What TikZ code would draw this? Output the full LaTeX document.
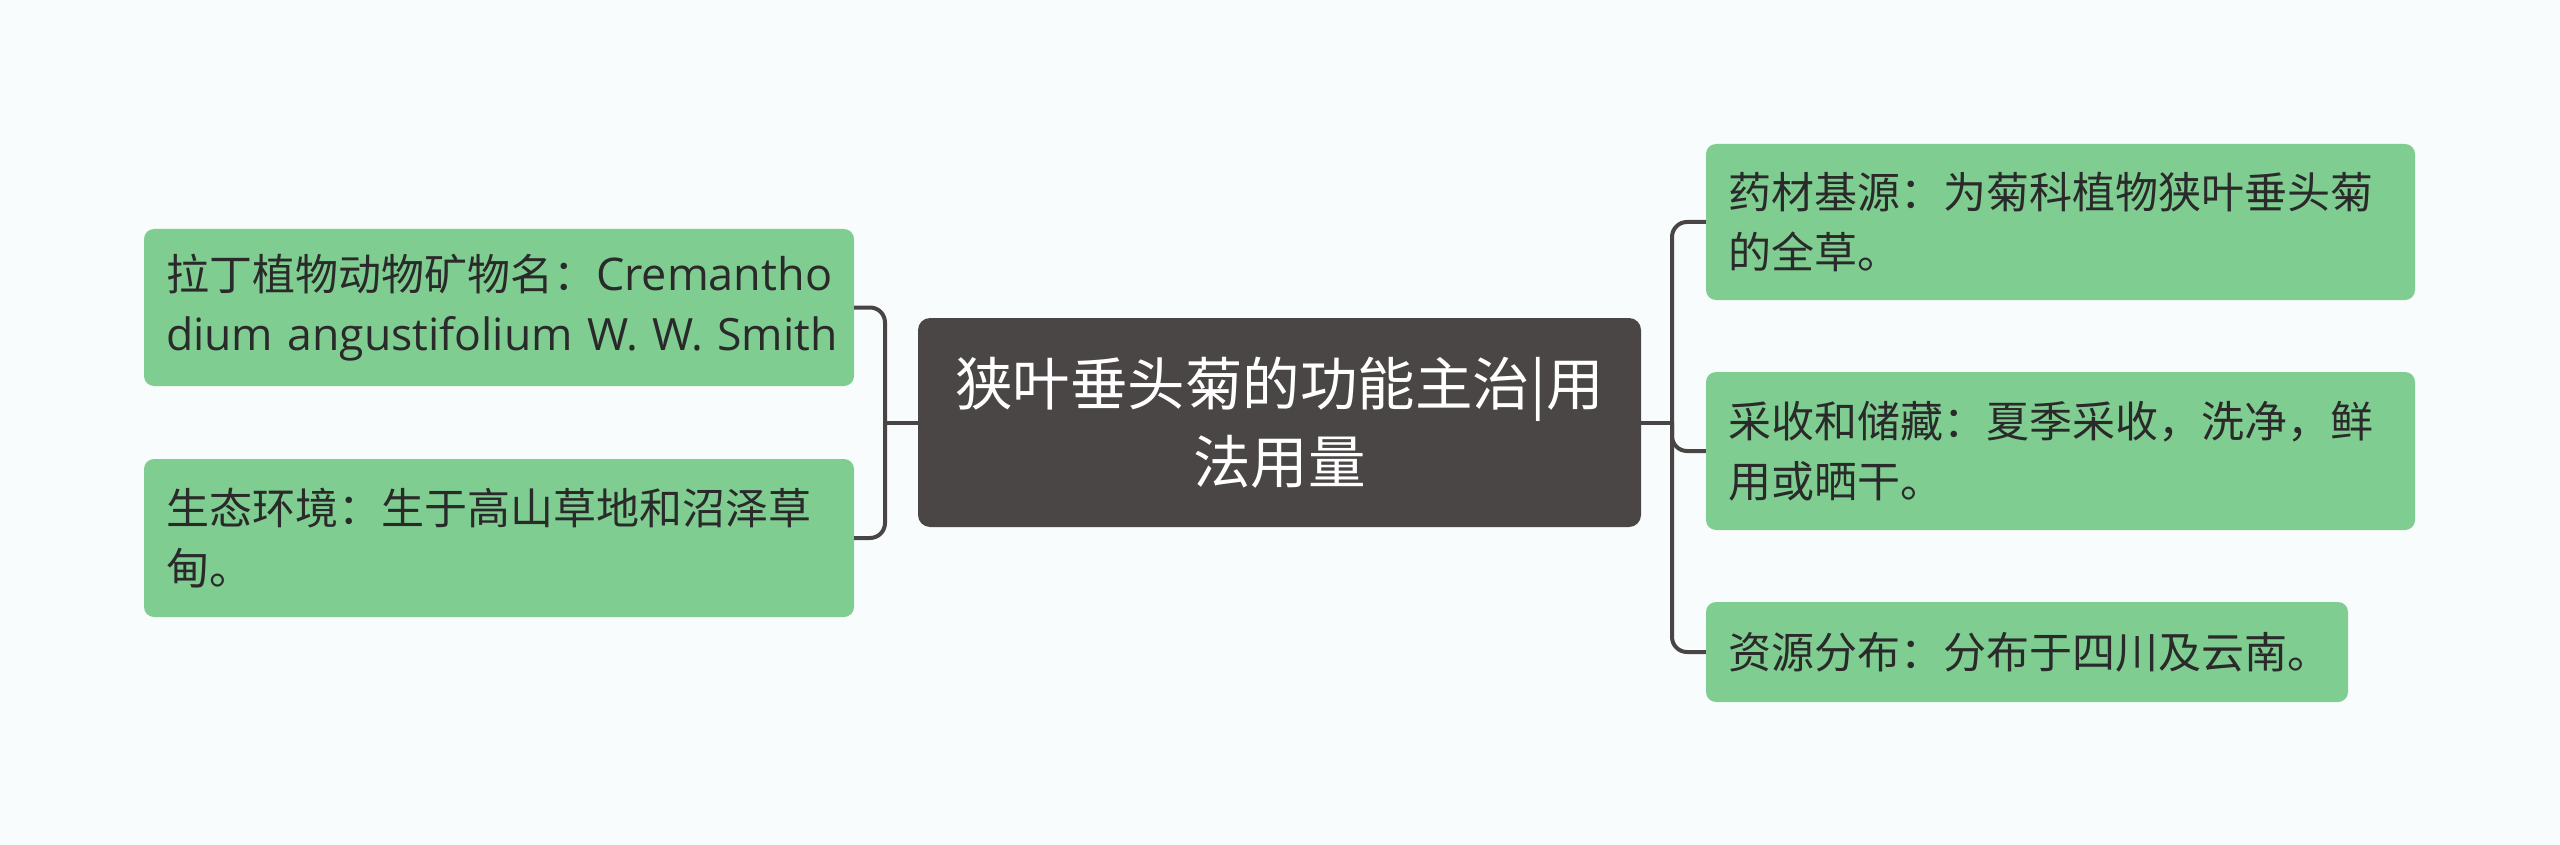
\documentclass[tikz,border=0pt]{standalone}
\usepackage{fontspec}
\setmainfont{Open Sans}
\newfontfamily\cjk{Noto Sans CJK SC}
\definecolor{bgc}{HTML}{F8FCFC}
\definecolor{greenc}{HTML}{80CD91}
\definecolor{darkc}{HTML}{4B4646}
\definecolor{linec}{HTML}{4A4545}
\definecolor{txtc}{HTML}{2A2A2A}
\tikzset{
  leaf/.style={draw=none, fill=greenc, rounded corners=10pt, inner xsep=22pt, inner ysep=0pt,
    align=left, text=txtc, font=\fontsize{43}{60}\selectfont, anchor=center},
  root/.style={draw=none, fill=darkc, rounded corners=12pt, inner sep=0pt,
    align=center, text=white, font=\cjk\fontsize{57.5}{78}\selectfont,
    minimum width=723pt, minimum height=209pt},
  conn/.style={draw=linec, line width=4pt, rounded corners=15pt}
}
\begin{document}
\begin{tikzpicture}[x=1pt,y=-1pt]
\fill[bgc] (0,0) rectangle (2560,845);
\useasboundingbox (0,0) rectangle (2560,845);

\node[root] (C) at (1279.5,422.5) {狭叶垂头菊的功能主治|用\\法用量};

\node[leaf, text width=666pt, minimum height=157pt] (L1) at (499,307.5)
  {\mbox{{\cjk 拉丁植物动物矿物名：}\fontsize{45}{60}\selectfont Cremantho}\\\mbox{\fontsize{44.5}{60}\selectfont dium angustifolium W. W. Smith}};
\node[leaf, text width=666pt, minimum height=158pt] (L2) at (499,538)
  {\cjk 生态环境：生于高山草地和沼泽草\\甸。};

\node[leaf, text width=665pt, minimum height=156pt] (R1) at (2060.5,222)
  {\cjk 药材基源：为菊科植物狭叶垂头菊\\的全草。};
\node[leaf, text width=665pt, minimum height=158pt] (R2) at (2060.5,451)
  {\cjk 采收和储藏：夏季采收，洗净，鲜\\用或晒干。};
\node[leaf, text width=598pt, minimum height=100pt] (R3) at (2027,652)
  {\cjk 资源分布：分布于四川及云南。};

\coordinate (lj) at (885,422.5);
\coordinate (rj) at (1672,422.5);

\draw[conn] (C.west) -- (lj);
\draw[conn] (L1.east) -| (lj) |- (L2.east);

\draw[conn] (C.east) -- (rj);
\draw[conn] (R1.west) -| (rj) |- (R3.west);
\draw[conn] (rj) |- (R2.west);
\end{tikzpicture}
\end{document}
